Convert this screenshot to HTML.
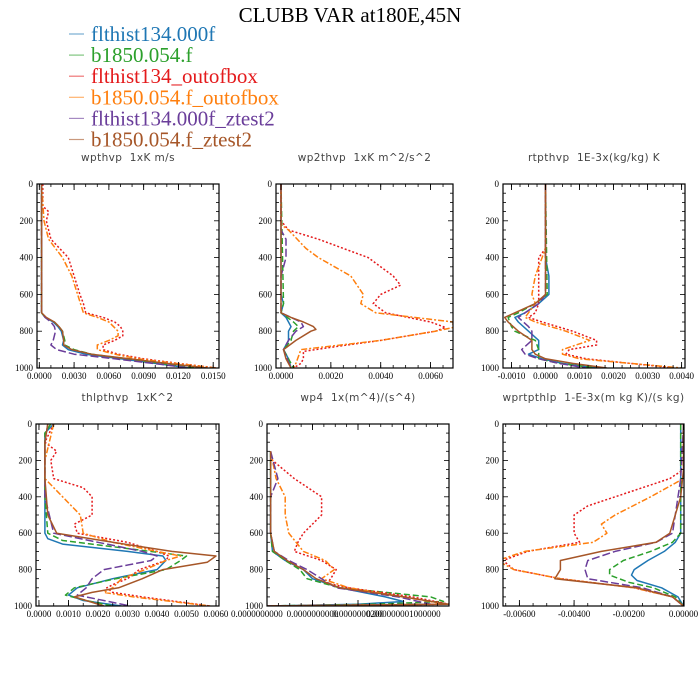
<!DOCTYPE html>
<html><head><meta charset="utf-8"><style>
body{margin:0;background:#fff;width:700px;height:700px;overflow:hidden}
svg{display:block}
.tl{font-family:"Liberation Serif",serif;font-size:9px;fill:#000}
.pt{font-family:"DejaVu Sans",sans-serif;font-size:10.5px;fill:#444;white-space:pre;letter-spacing:0.4px}
.lg{font-family:"Liberation Serif",serif;font-size:21px}
</style></head><body>
<svg id="chart" width="700" height="700" viewBox="0 0 700 700">
<text x="350" y="22" text-anchor="middle" font-family="Liberation Serif, serif" font-size="21">CLUBB VAR at180E,45N</text>
<g id="legend"></g>
<g id="panels"></g>
</svg>
<script>
// ---- data ----
const seriesNames = ["flthist134.000f","b1850.054.f","flthist134_outofbox","b1850.054.f_outofbox","flthist134.000f_ztest2","b1850.054.f_ztest2"];
const seriesColors = ["#1f77b4","#2ca02c","#e41a1c","#ff7f0e","#6a3d9a","#a65628"];
const seriesDash = ["", "6,3", "2,2", "6,2,2,2", "8,3", ""];

// wpthvp  [pressure, value]
const wpthvp_s1 = [[0,0.0002],[600,0.0002],[700,0.0002],[725,0.0005],[750,0.0012],[775,0.0016],[800,0.0019],[825,0.002],[850,0.0021],[875,0.002],[900,0.0025],[925,0.004],[950,0.007],[975,0.010],[1000,0.013]];
const wpthvp_s2 = [[0,0.0002],[700,0.0002],[725,0.0005],[750,0.0013],[775,0.0017],[800,0.002],[850,0.0022],[875,0.0022],[900,0.003],[925,0.0045],[950,0.0075],[975,0.0105],[1000,0.0135]];
const wpthvp_s3 = [[0,0.0003],[120,0.0003],[150,0.0008],[200,0.0006],[300,0.001],[400,0.0025],[500,0.003],[600,0.0035],[650,0.0038],[700,0.004],[725,0.0055],[750,0.0065],[775,0.007],[800,0.0072],[825,0.0072],[850,0.0065],[875,0.0055],[900,0.0055],[925,0.0068],[950,0.009],[975,0.012],[1000,0.0153]];
const wpthvp_s4 = [[0,0.0002],[200,0.0004],[300,0.0008],[400,0.002],[500,0.0028],[600,0.0033],[700,0.0038],[725,0.005],[750,0.006],[800,0.0068],[825,0.0068],[850,0.006],[875,0.005],[900,0.005],[925,0.0065],[950,0.0085],[975,0.0118],[1000,0.0152]];
const wpthvp_s5 = [[0,0.0002],[700,0.0002],[725,0.0005],[750,0.001],[775,0.0013],[800,0.0014],[850,0.0012],[875,0.001],[900,0.0015],[925,0.003],[950,0.0065],[975,0.0098],[1000,0.013]];
const wpthvp_s6 = [[0,0.0002],[700,0.0002],[725,0.0006],[750,0.0013],[775,0.0017],[800,0.002],[850,0.0021],[875,0.0021],[900,0.0028],[925,0.0045],[950,0.0078],[975,0.011],[1000,0.0145]];

// wp2thvp
const wp2thvp_s1 = [[0,0],[600,0],[650,0.0001],[700,0],[725,0.0002],[750,0.0003],[775,0.0004],[800,0.0003],[850,0.0003],[900,0.0001],[950,0.0003],[1000,0.0004]];
const wp2thvp_s2 = [[0,0],[650,0.0001],[700,0],[750,0.0005],[775,0.0007],[800,0.0005],[850,0.0004],[900,0.0001],[950,0.0003],[1000,0.0005]];
const wp2thvp_s3 = [[0,0],[200,0],[250,0.0003],[300,0.0015],[400,0.0035],[500,0.0045],[550,0.0048],[600,0.004],[650,0.0037],[700,0.0042],[750,0.006],[780,0.0066],[800,0.0062],[850,0.004],[880,0.0024],[910,0.0009],[950,0.0009],[975,0.0008],[1000,0.0005]];
const wp2thvp_s4 = [[0,0],[220,0],[250,0.0003],[350,0.001],[400,0.0015],[500,0.0028],[600,0.0033],[650,0.0032],[700,0.0038],[750,0.0069],[780,0.0069],[800,0.0062],[850,0.004],[900,0.0008],[975,0.0006],[1000,0.0005]];
const wp2thvp_s5 = [[0,0],[250,0],[300,0.0002],[400,0.0002],[500,0],[700,0],[750,0.0008],[775,0.0009],[800,0.0006],[850,0.0003],[900,0.0001],[1000,0.0004]];
const wp2thvp_s6 = [[0,0],[700,0],[725,0.0004],[750,0.0009],[775,0.0013],[790,0.0014],[800,0.0012],[850,0.0006],[900,0.0001],[950,0.0002],[1000,0.0004]];

// rtpthvp
const rtpthvp_s1 = [[0,0],[400,0],[500,0.0001],[600,0.0001],[650,-0.0002],[700,-0.0006],[725,-0.0009],[750,-0.0008],[800,-0.0005],[850,-0.0002],[900,-0.0002],[925,-0.0005],[950,-0.0001],[975,0.0005],[1000,0.0015]];
const rtpthvp_s2 = [[0,0],[600,0.00005],[650,-0.0003],[700,-0.0008],[725,-0.0011],[775,-0.001],[800,-0.0009],[850,-0.0003],[900,-0.0002],[950,-0.0002],[975,0.0004],[1000,0.0015]];
const rtpthvp_s3 = [[0,0],[350,0],[400,-0.0002],[500,-0.0002],[600,-0.0002],[650,-0.0002],[700,-0.0003],[725,-0.0005],[750,-0.0001],[800,0.0008],[850,0.0015],[875,0.0015],[900,0.0007],[925,0.0006],[950,0.0012],[975,0.0025],[1000,0.0038]];
const rtpthvp_s4 = [[0,0],[350,0],[400,-0.0001],[500,-0.0003],[600,-0.0004],[650,-0.0003],[700,-0.0005],[725,-0.0006],[750,-0.0003],[800,0.0006],[850,0.0013],[900,0.0005],[925,0.0005],[950,0.001],[975,0.0025],[1000,0.004]];
const rtpthvp_s5 = [[0,0],[600,0],[650,-0.0002],[700,-0.0006],[725,-0.0008],[775,-0.0005],[800,-0.0004],[850,-0.0004],[900,-0.0007],[925,-0.0006],[950,-0.0002],[975,0.0004],[1000,0.0012]];
const rtpthvp_s6 = [[0,0],[600,0],[650,-0.0003],[700,-0.0009],[725,-0.0012],[750,-0.0011],[800,-0.0008],[850,-0.0004],[900,-0.0004],[925,-0.0003],[950,0],[975,0.0008],[1000,0.0018]];

// thlpthvp
const thlpthvp_s1 = [[0,0.0005],[50,0.0002],[200,0.0002],[400,0.0002],[600,0.0002],[630,0.0003],[660,0.0008],[700,0.003],[725,0.0042],[750,0.0043],[800,0.004],[850,0.0025],[900,0.0013],[940,0.001],[970,0.0015],[1000,0.0028]];
const thlpthvp_s2 = [[0,0.0004],[50,0.0002],[400,0.0002],[600,0.0003],[640,0.0008],[680,0.0028],[725,0.005],[750,0.0048],[800,0.0043],[850,0.0026],[900,0.0012],[940,0.0009],[970,0.0016],[1000,0.0025]];
const thlpthvp_s3 = [[0,0.0005],[100,0.0002],[150,0.0006],[200,0.0004],[300,0.0005],[350,0.0015],[400,0.0018],[500,0.0018],[550,0.0012],[600,0.0013],[650,0.003],[700,0.004],[725,0.0044],[750,0.0043],[800,0.0034],[850,0.003],[875,0.0026],[900,0.0023],[925,0.0025],[950,0.0035],[1000,0.0058]];
const thlpthvp_s4 = [[0,0.0005],[200,0.0002],[300,0.0002],[400,0.0008],[500,0.0014],[600,0.0015],[650,0.0025],[700,0.004],[725,0.0048],[750,0.0043],[800,0.0036],[850,0.0028],[900,0.0025],[925,0.0022],[950,0.0032],[1000,0.0058]];
const thlpthvp_s5 = [[0,0.0003],[100,0.0002],[400,0.0002],[600,0.0005],[650,0.002],[700,0.0035],[725,0.004],[750,0.0038],[800,0.0022],[850,0.0018],[900,0.0016],[940,0.0013],[1000,0.0031]];
const thlpthvp_s6 = [[0,0.0003],[100,0.0002],[300,0.0002],[500,0.0003],[600,0.0006],[650,0.0025],[700,0.0045],[725,0.006],[760,0.0057],[800,0.0042],[850,0.0035],[900,0.0027],[925,0.0018],[950,0.0012],[1000,0.0022]];

// wp4 (relative units, 0..1 of axis)
const wp4_s1 = [[150,0.02],[400,0.02],[600,0.02],[700,0.03],[750,0.1],[800,0.2],[850,0.25],[900,0.4],[950,0.65],[975,0.75],[990,0.5],[1000,0]];
const wp4_s2 = [[150,0.02],[600,0.02],[700,0.03],[750,0.1],[800,0.18],[850,0.22],[900,0.4],[950,0.9],[975,0.97],[990,0.6],[1000,0]];
const wp4_s3 = [[150,0.02],[200,0.03],[300,0.15],[400,0.3],[500,0.3],[600,0.2],[650,0.17],[700,0.15],[750,0.3],[800,0.38],[850,0.35],[875,0.33],[900,0.45],[950,0.8],[990,1.0],[1000,0]];
const wp4_s4 = [[150,0.02],[200,0.03],[300,0.05],[400,0.1],[500,0.1],[600,0.12],[700,0.2],[750,0.32],[800,0.37],[850,0.3],[900,0.45],[950,0.75],[990,0.98],[1000,0]];
const wp4_s5 = [[150,0.02],[300,0.06],[400,0.02],[600,0.02],[700,0.04],[750,0.12],[800,0.22],[850,0.3],[900,0.38],[950,0.72],[990,0.9],[1000,0]];
const wp4_s6 = [[150,0.02],[600,0.02],[700,0.04],[750,0.11],[800,0.2],[850,0.27],[900,0.4],[950,0.75],[990,1.0],[1000,0]];

// wprtpthlp
const wprtpthlp_s1 = [[0,-0.0001],[600,-0.0001],[650,-0.0003],[700,-0.0007],[750,-0.0013],[800,-0.0018],[830,-0.0019],[860,-0.0017],[900,-0.0008],[950,-0.0002],[1000,0]];
const wprtpthlp_s2 = [[0,-0.0001],[600,-0.0001],[650,-0.0004],[700,-0.0012],[750,-0.0022],[800,-0.0027],[830,-0.0027],[870,-0.002],[900,-0.0011],[950,-0.0003],[1000,0]];
const wprtpthlp_s3 = [[0,0],[250,0],[300,-0.0005],[400,-0.0025],[450,-0.0035],[500,-0.004],[600,-0.004],[650,-0.0038],[700,-0.0057],[750,-0.0066],[800,-0.0062],[850,-0.0045],[900,-0.0018],[950,-0.0004],[1000,0]];
const wprtpthlp_s4 = [[0,0],[300,0],[400,-0.0012],[500,-0.0025],[550,-0.003],[600,-0.0028],[650,-0.0033],[700,-0.0058],[750,-0.0068],[800,-0.0062],[850,-0.0045],[900,-0.0018],[950,-0.0004],[1000,0]];
const wprtpthlp_s5 = [[0,0],[300,-0.0001],[400,-0.0002],[600,-0.0004],[650,-0.001],[700,-0.0025],[750,-0.0035],[800,-0.0036],[850,-0.0035],[900,-0.0015],[950,-0.0004],[1000,0]];
const wprtpthlp_s6 = [[0,0],[250,0],[400,-0.0001],[600,-0.0005],[650,-0.001],[700,-0.003],[750,-0.0045],[800,-0.0045],[850,-0.0047],[900,-0.0017],[950,-0.0004],[1000,0]];

const yTicks = [0,200,400,600,800,1000];
const p1Ticks = [0,0.003,0.006,0.009,0.012,0.015];
const p1Labels = ["0.0000","0.0030","0.0060","0.0090","0.0120","0.0150"];
const p2Ticks = [0,0.002,0.004,0.006];
const p2Labels = ["0.0000","0.0020","0.0040","0.0060"];
const p3Ticks = [-0.001,0,0.001,0.002,0.003,0.004];
const p3Labels = ["-0.0010","0.0000","0.0010","0.0020","0.0030","0.0040"];
const p4Ticks = [0,0.001,0.002,0.003,0.004,0.005,0.006];
const p4Labels = ["0.0000","0.0010","0.0020","0.0030","0.0040","0.0050","0.0060"];
const p5Ticks = [0,0.25,0.5,0.75];
const p5Labels = ["0.0000000000","0.0000000000","0.0000000200","0.000000001000000"];
const p6Ticks = [-0.006,-0.004,-0.002,0];
const p6Labels = ["-0.00600","-0.00400","-0.00200","0.00000"];

const panels = [
 {name:"wpthvp", title:"wpthvp  1xK m/s", x0:37,x1:219,y0:184,y1:368, xmin:-0.0002,xmax:0.0155, ticks:p1Ticks, labels:p1Labels, minor:0.001, data:[wpthvp_s1,wpthvp_s2,wpthvp_s3,wpthvp_s4,wpthvp_s5,wpthvp_s6]},
 {name:"wp2thvp", title:"wp2thvp  1xK m^2/s^2", x0:276,x1:453,y0:184,y1:368, xmin:-0.0002,xmax:0.0069, ticks:p2Ticks, labels:p2Labels, minor:0.0005, data:[wp2thvp_s1,wp2thvp_s2,wp2thvp_s3,wp2thvp_s4,wp2thvp_s5,wp2thvp_s6]},
 {name:"rtpthvp", title:"rtpthvp  1E-3x(kg/kg) K", x0:503,x1:685,y0:184,y1:368, xmin:-0.00125,xmax:0.0041, ticks:p3Ticks, labels:p3Labels, minor:0.00025, data:[rtpthvp_s1,rtpthvp_s2,rtpthvp_s3,rtpthvp_s4,rtpthvp_s5,rtpthvp_s6]},
 {name:"thlpthvp", title:"thlpthvp  1xK^2", x0:36,x1:219,y0:424,y1:606, xmin:-0.0001,xmax:0.0061, ticks:p4Ticks, labels:p4Labels, minor:0.0005, data:[thlpthvp_s1,thlpthvp_s2,thlpthvp_s3,thlpthvp_s4,thlpthvp_s5,thlpthvp_s6]},
 {name:"wp4", title:"wp4  1x(m^4)/(s^4)", x0:267,x1:449,y0:424,y1:606, xmin:0,xmax:1.0, ticks:p5Ticks, labels:p5Labels, minor:0.0625, data:[wp4_s1,wp4_s2,wp4_s3,wp4_s4,wp4_s5,wp4_s6]},
 {name:"wprtpthlp", title:"wprtpthlp  1-E-3x(m kg K)/(s kg)", x0:503,x1:684,y0:424,y1:606, xmin:-0.0066,xmax:0.00002, ticks:p6Ticks, labels:p6Labels, minor:0.0005, data:[wprtpthlp_s1,wprtpthlp_s2,wprtpthlp_s3,wprtpthlp_s4,wprtpthlp_s5,wprtpthlp_s6]}
];

const NS="http://www.w3.org/2000/svg";
function mk(tag, attrs, parent){const e=document.createElementNS(NS,tag);for(const k in attrs)e.setAttribute(k,attrs[k]);parent.appendChild(e);return e;}

// legend
const lg=document.getElementById('legend');
seriesNames.forEach((n,i)=>{
  const y=34+i*21.1;
  const g=mk('g',{},lg);
  
  
  mk('line',{x1:69,x2:84,y1:y,y2:y,stroke:seriesColors[i],'stroke-width':1.2,opacity:0.6},g);
  const t=mk('text',{x:91,y:y+7,class:'lg',fill:seriesColors[i]},g);
  t.textContent=n;
});

const root=document.getElementById('panels');
panels.forEach(P=>{
  const g=mk('g',{},root);
  
  
  const sx=v=>P.x0+(v-P.xmin)/(P.xmax-P.xmin)*(P.x1-P.x0);
  const sy=p=>P.y0+p/1000*(P.y1-P.y0);
  const id='clip-'+P.name;
  const cp=mk('clipPath',{id:id},g);
  mk('rect',{x:P.x0,y:P.y0,width:P.x1-P.x0,height:P.y1-P.y0},cp);
  const tt=mk('text',{x:(P.x0+P.x1)/2,y:P.y0-23,'text-anchor':'middle',class:'pt'},g);
  
  
  tt.textContent=P.title;
  // series
  const sg=mk('g',{'clip-path':'url(#'+id+')'},g);
  P.data.forEach((s,i)=>{
    const d=s.map((pt,j)=>(j?'L':'M')+sx(pt[1]).toFixed(1)+','+sy(pt[0]).toFixed(1)).join(' ');
    const path=mk('path',{d:d,fill:'none',stroke:seriesColors[i],'stroke-width':1.5,'stroke-dasharray':seriesDash[i]||'none','stroke-linejoin':'round'},sg);
    
    
  });
  // frame
  mk('rect',{x:P.x0,y:P.y0,width:P.x1-P.x0,height:P.y1-P.y0,fill:'none',stroke:'#000','stroke-width':1.2},g);
  // y ticks
  for(let p=0;p<=1000;p+=50){
    const L=(p%200===0)?5:3;const y=sy(p);
    mk('line',{x1:P.x0,x2:P.x0+L,y1:y,y2:y,stroke:'#000','stroke-width':0.8},g);
    mk('line',{x1:P.x1,x2:P.x1-L,y1:y,y2:y,stroke:'#000','stroke-width':0.8},g);
  }
  yTicks.forEach(p=>{
    const t=mk('text',{x:P.x0-4,y:sy(p)+3,'text-anchor':'end',class:'tl'},g);
    
    
    t.textContent=p;
  });
  // x minor ticks
  const startM=Math.ceil(P.xmin/P.minor);
  for(let k=startM;k*P.minor<=P.xmax+1e-12;k++){
    const x=sx(k*P.minor);
    mk('line',{x1:x,x2:x,y1:P.y1,y2:P.y1-3,stroke:'#000','stroke-width':0.8},g);
    mk('line',{x1:x,x2:x,y1:P.y0,y2:P.y0+3,stroke:'#000','stroke-width':0.8},g);
  }
  P.ticks.forEach((v,i)=>{
    const x=sx(v);
    mk('line',{x1:x,x2:x,y1:P.y1,y2:P.y1-6,stroke:'#000','stroke-width':0.9},g);
    mk('line',{x1:x,x2:x,y1:P.y0,y2:P.y0+6,stroke:'#000','stroke-width':0.9},g);
    const t=mk('text',{x:x,y:P.y1+11,'text-anchor':P.name==='wp4'&&i===0?'start':'middle',class:'tl'},g);
    if(P.name==='wp4'&&i===0)t.setAttribute('x',x-36);
    
    
    t.textContent=P.labels[i];
  });
});
</script>
</body></html>
